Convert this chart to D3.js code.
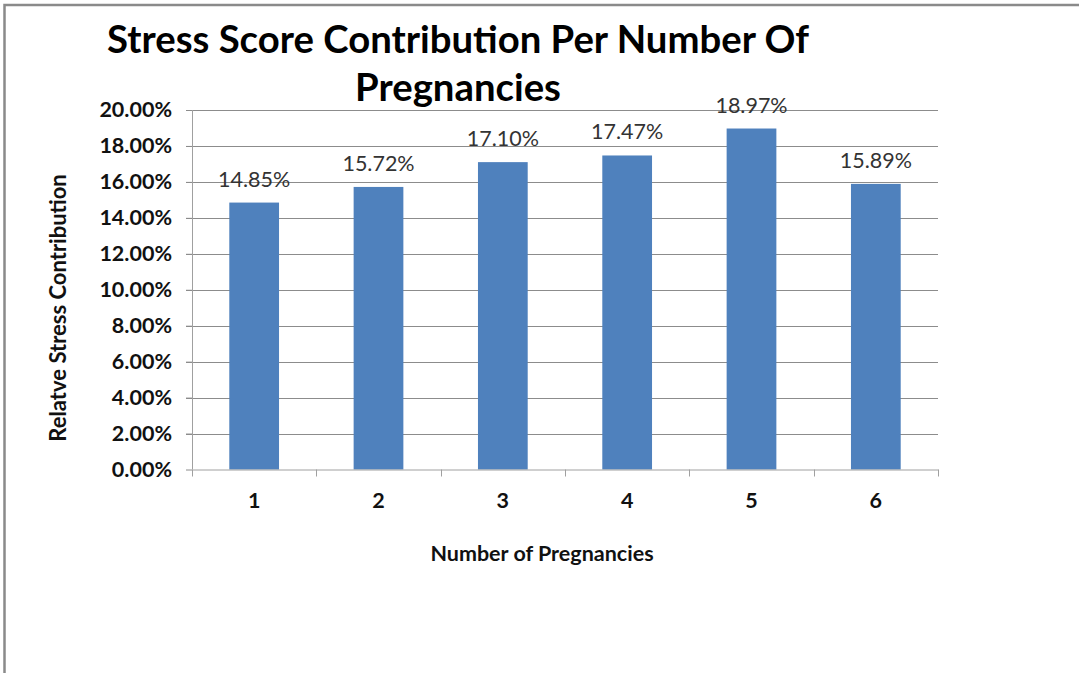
<!DOCTYPE html>
<html><head><meta charset="utf-8">
<script src="https://cdn.jsdelivr.net/npm/d3@7"></script>
<style>body{margin:0;background:#fff;} svg{display:block;}</style>
</head><body>
<script>
const categories = ["1","2","3","4","5","6"];
const values = [14.85, 15.72, 17.10, 17.47, 18.97, 15.89];
const yTicks = [0,2,4,6,8,10,12,14,16,18,20];
const titleLines = ["Stress Score Contribution Per Number Of","Pregnancies"];
const xTitle = "Number of Pregnancies";
const yTitle = "Relatve Stress Contribution";

(function(){
const W = 1079, H = 673;
const svg = d3.select("body").append("svg").attr("width", W).attr("height", H);
svg.append("rect").attr("width", W).attr("height", H).attr("fill", "#fff");
// frame
svg.append("path").attr("d", `M4.5,${H} V5 H${W}`).attr("fill","none").attr("stroke","#8a8a8a").attr("stroke-width",2.5);

const pL = 192, pR = 938, pT = 110, pB = 469.5;
const x = d3.scaleBand().domain(categories).range([pL, pR]).paddingInner(0.6).paddingOuter(0.3);
const xb = d3.scaleBand().domain(categories).range([pL, pR]);
const y = d3.scaleLinear().domain([0, 20]).range([pB, pT]);
const font = "Lato, 'Open Sans', sans-serif";

// gridlines
svg.append("g").selectAll("line").data(yTicks.filter(d=>d>0)).join("line")
  .attr("x1", pL-6).attr("x2", pR).attr("y1", d=>Math.round(y(d))+0.5).attr("y2", d=>Math.round(y(d))+0.5)
  .attr("stroke", "#8c8c8c").attr("stroke-width", 1.2);

// y axis
const ya = svg.append("g").attr("transform", `translate(${pL},0)`)
  .call(d3.axisLeft(y).tickValues(yTicks).tickSize(6).tickPadding(14).tickFormat(d => d.toFixed(2) + "%"));
ya.select(".domain").attr("stroke", "#a0a0a0").attr("d", `M0.5,${pT} V${pB}`);
ya.selectAll(".tick line").attr("stroke", "#8c8c8c");
ya.selectAll("text").attr("font-family", font).attr("font-weight", "bold").attr("font-size", 21.5).attr("fill", "#111");

// bars
svg.append("g").selectAll("rect").data(values).join("rect")
  .attr("x", (d,i)=>x(categories[i])).attr("width", x.bandwidth())
  .attr("y", d=>y(d)).attr("height", d=>pB - y(d))
  .attr("fill", "#4f81bd");

// x axis
const xa = svg.append("g").attr("transform", `translate(0,${pB})`)
  .call(d3.axisBottom(xb).tickSize(0).tickPadding(23));
xa.select(".domain").attr("stroke", "#a0a0a0");
xa.selectAll("text").attr("font-family", font).attr("font-weight", "bold").attr("font-size", 21.5).attr("fill", "#111");
const bounds = categories.map(c=>xb(c)).concat([pR]);
svg.append("g").selectAll("line").data(bounds).join("line")
  .attr("x1", d=>Math.round(d)+0.5).attr("x2", d=>Math.round(d)+0.5)
  .attr("y1", pB).attr("y2", pB+7).attr("stroke", "#a0a0a0");

// data labels
svg.append("g").selectAll("text").data(values).join("text")
  .attr("x", (d,i)=>x(categories[i]) + x.bandwidth()/2).attr("y", d=>y(d)-16)
  .attr("text-anchor", "middle").attr("font-family", font).attr("font-size", 21.5).attr("fill", "#333")
  .text(d => d.toFixed(2) + "%");

// title
svg.append("g").selectAll("text").data(titleLines).join("text")
  .attr("x", 458).attr("y", (d,i)=>53 + i*48).attr("text-anchor","middle")
  .attr("font-family", font).attr("font-weight","bold").attr("font-size", 38.3).attr("fill","#000")
  .text(d=>d);

svg.append("text").attr("x", 542).attr("y", 561).attr("text-anchor","middle")
  .attr("font-family", font).attr("font-weight","bold").attr("font-size", 21.5).attr("fill","#111").text(xTitle);
svg.append("text").attr("transform","translate(66,308) rotate(-90)").attr("text-anchor","middle")
  .attr("font-family", font).attr("font-weight","bold").attr("font-size", 22).attr("fill","#111").text(yTitle);
})();
</script>
</body></html>
